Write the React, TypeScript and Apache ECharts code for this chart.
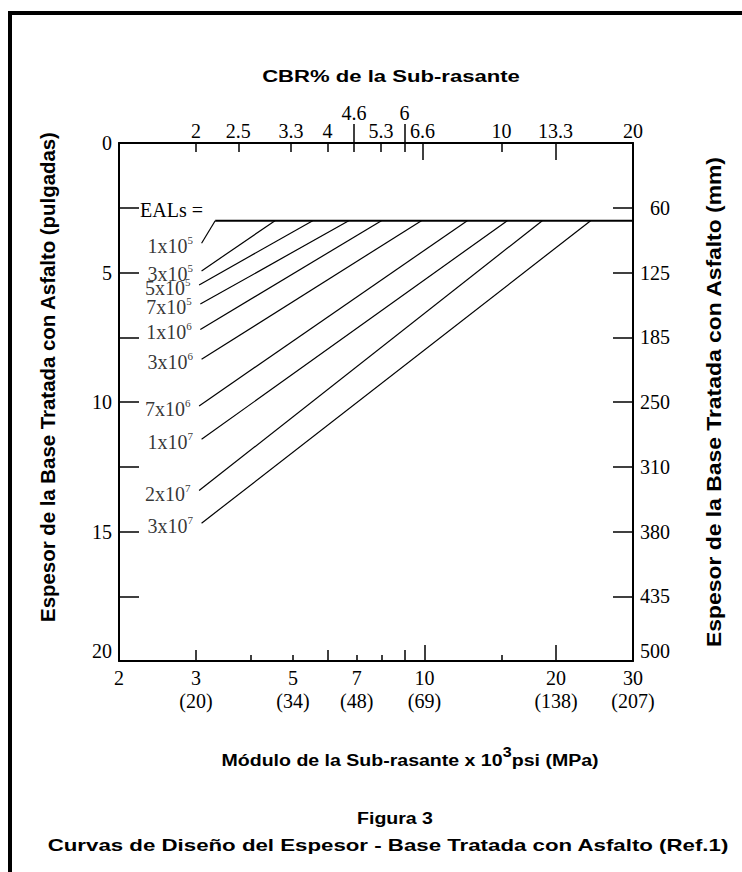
import React, { useEffect, useRef } from "react";
import * as echarts from "echarts";

// ---- Data ----
// Bottom axis: subgrade resilient modulus (x 10^3 psi), MPa equivalents
const modulusLabelValues = [2, 3, 5, 7, 10, 20, 30];
const modulusMPa = ["", "(20)", "(34)", "(48)", "(69)", "(138)", "(207)"];
const modulusShortTicks = [4, 5, 7, 8, 15];
const modulusMidTicks = [3, 6, 9];
const modulusLongTicks = [10, 20];
const modulusMin = 2;
const modulusMax = 30;

// Top axis: CBR% (CBR = Mr / 1.5)
const modulusPerCbr = 1.5;
const cbrLabelValues = [2, 2.5, 3.3, 4, 5.3, 6.6, 10, 13.3, 20];
const cbrRaisedValues = [4.6, 6];
const cbrShortTicks = [2, 2.5, 3.3, 4, 4.6, 5.3, 6, 10];
const cbrLongTicks = [6.6, 13.3];

// Thickness axes (inches left, mm labels right)
const thicknessMin = 0;
const thicknessMax = 20;
const thicknessStep = 2.5;
const thicknessMmLabels = ["", "60", "125", "185", "250", "310", "380", "435", "500"];

// EAL design lines
const ealBase = ["1x10", "3x10", "5x10", "7x10", "1x10", "3x10", "7x10", "1x10", "2x10", "3x10"];
const ealExp = ["5", "5", "5", "5", "6", "6", "6", "7", "7", "7"];
const startModulus = [3.09, 3.09, 3.05, 3.07, 3.07, 3.09, 3.05, 3.09, 3.05, 3.09];
const startThickness = [3.87, 4.94, 5.48, 6.22, 7.2, 8.35, 10.15, 11.44, 13.42, 14.68];
const endModulus = [3.32, 4.55, 5.55, 6.71, 7.97, 9.84, 12.53, 15.47, 18.6, 24.0];
const minThickness = 3;

const SERIF = '"Liberation Serif", "Times New Roman", serif';
const SANS = '"Liberation Sans", Arial, sans-serif';

const near = (a: number, b: number) => Math.abs(a - b) < 1e-6 * Math.max(1, Math.abs(b));

function buildOption() {
  const noSplit = { show: false };
  const tickStyle = { color: "#000", width: 1.5 };
  const axisLineShown = { show: true, onZero: false, lineStyle: { color: "#000", width: 2 } };
  const axisLineHidden = { show: false, onZero: false };
  const serifLabel = { fontFamily: SERIF, fontSize: 20, color: "#000" };

  const bottomBase = {
    type: "log",
    logBase: 10,
    min: modulusMin,
    max: modulusMax,
    position: "bottom",
    gridIndex: 0,
    splitLine: noSplit,
    minorTick: { show: false },
    minorSplitLine: { show: false },
  };
  const topBase = {
    type: "log",
    logBase: 10,
    min: modulusMin / modulusPerCbr,
    max: modulusMax / modulusPerCbr,
    position: "top",
    gridIndex: 0,
    splitLine: noSplit,
    minorTick: { show: false },
    minorSplitLine: { show: false },
  };

  const xAxis = [
    {
      ...bottomBase,
      axisLine: axisLineShown,
      axisTick: { show: true, inside: true, length: 6, customValues: modulusShortTicks, lineStyle: tickStyle },
      axisLabel: {
        ...serifLabel,
        customValues: modulusLabelValues,
        margin: 5,
        lineHeight: 23,
        formatter: (v: number) => {
          const i = modulusLabelValues.findIndex((m) => near(m, v));
          const name = i >= 0 ? String(modulusLabelValues[i]) : String(Math.round(v));
          return i >= 0 && modulusMPa[i] ? name + "\n" + modulusMPa[i] : name;
        },
      },
    },
    {
      ...bottomBase,
      axisLine: axisLineHidden,
      axisTick: { show: true, inside: true, length: 11, customValues: modulusMidTicks, lineStyle: tickStyle },
      axisLabel: { show: false },
    },
    {
      ...bottomBase,
      axisLine: axisLineHidden,
      axisTick: { show: true, inside: true, length: 16, customValues: modulusLongTicks, lineStyle: tickStyle },
      axisLabel: { show: false },
    },
    {
      ...topBase,
      axisLine: axisLineShown,
      axisTick: { show: true, inside: true, length: 9, customValues: cbrShortTicks, lineStyle: tickStyle },
      axisLabel: {
        ...serifLabel,
        customValues: cbrLabelValues,
        margin: 2,
        formatter: (v: number) => String(Math.round(v * 10) / 10),
      },
    },
    {
      ...topBase,
      axisLine: axisLineHidden,
      axisTick: { show: true, inside: true, length: 17, customValues: cbrLongTicks, lineStyle: tickStyle },
      axisLabel: { show: false },
    },
    {
      ...topBase,
      axisLine: axisLineHidden,
      axisTick: { show: true, inside: false, length: 19, customValues: cbrRaisedValues, lineStyle: tickStyle },
      axisLabel: {
        ...serifLabel,
        customValues: cbrRaisedValues,
        margin: 20,
        formatter: (v: number) => String(Math.round(v * 10) / 10),
      },
    },
  ];

  const yBase = {
    type: "value",
    min: thicknessMin,
    max: thicknessMax,
    interval: thicknessStep,
    inverse: true,
    gridIndex: 0,
    splitLine: noSplit,
    axisLine: axisLineShown,
    axisTick: { show: true, inside: true, length: 20, lineStyle: tickStyle },
  };

  const yAxis = [
    {
      ...yBase,
      position: "left",
      axisLabel: {
        ...serifLabel,
        margin: 7,
        verticalAlignMaxLabel: "bottom",
        formatter: (v: number) => (Math.round(v * 10) % 50 === 0 ? String(v) : ""),
      },
    },
    {
      ...yBase,
      position: "right",
      axisLabel: {
        ...serifLabel,
        margin: 37,
        align: "right",
        verticalAlignMaxLabel: "bottom",
        formatter: (v: number) => thicknessMmLabels[Math.round(v / thicknessStep)] || "",
      },
    },
  ];

  const lineSeries = ealBase.map((b, i) => ({
    type: "line",
    name: b + "^" + ealExp[i],
    xAxisIndex: 0,
    yAxisIndex: 0,
    data: [
      [startModulus[i], startThickness[i]],
      [endModulus[i], minThickness],
    ],
    symbol: "none",
    showSymbol: false,
    silent: true,
    lineStyle: { color: "#000", width: 1.2 },
  }));

  const minLine = {
    type: "line",
    name: "min",
    xAxisIndex: 0,
    yAxisIndex: 0,
    data: [
      [endModulus[0], minThickness],
      [modulusMax, minThickness],
    ],
    symbol: "none",
    showSymbol: false,
    silent: true,
    lineStyle: { color: "#000", width: 2 },
  };

  const labelSeries = {
    type: "scatter",
    name: "labels",
    xAxisIndex: 0,
    yAxisIndex: 0,
    symbolSize: 1,
    silent: true,
    itemStyle: { color: "rgba(0,0,0,0)" },
    data: startModulus.map((m, i) => [m, startThickness[i]]),
    label: {
      show: true,
      position: "left",
      distance: 8,
      offset: [0, 3],
      formatter: (p: any) => `{b|${ealBase[p.dataIndex]}}{s|${ealExp[p.dataIndex]}}`,
      rich: {
        b: { fontFamily: SERIF, fontSize: 20, color: "#000", lineHeight: 14, verticalAlign: "middle" },
        s: { fontFamily: SERIF, fontSize: 11, color: "#000", lineHeight: 2, height: 2, verticalAlign: "top" },
      },
    },
  };

  const centered = { align: "center", verticalAlign: "middle", textAlign: "center", textVerticalAlign: "middle" };

  const graphic = [
    { type: "line", shape: { x1: 8, y1: 13, x2: 742, y2: 13 }, style: { stroke: "#000", lineWidth: 4 }, silent: true },
    { type: "line", shape: { x1: 10, y1: 11, x2: 10, y2: 872 }, style: { stroke: "#000", lineWidth: 4 }, silent: true },
    {
      type: "text",
      x: 391,
      y: 76,
      scaleX: 1.3,
      style: { text: "CBR% de la Sub-rasante", fontFamily: SANS, fontWeight: "bold", fontSize: 17, fill: "#000", ...centered },
    },
    {
      type: "text",
      x: 140,
      y: 210,
      style: {
        text: "EALs =",
        fontFamily: SERIF,
        fontSize: 20,
        fill: "#000",
        align: "left",
        verticalAlign: "middle",
        textAlign: "left",
        textVerticalAlign: "middle",
      },
    },
    {
      type: "text",
      x: 410,
      y: 760,
      scaleX: 1.15,
      style: {
        text: "{t|Módulo de la Sub-rasante x 10}{s|3}{t|psi (MPa)}",
        rich: {
          t: { fontFamily: SANS, fontWeight: "bold", fontSize: 17, fill: "#000", color: "#000", lineHeight: 18, verticalAlign: "middle" },
          s: { fontFamily: SANS, fontWeight: "bold", fontSize: 14, fill: "#000", color: "#000", lineHeight: 2, height: 2, verticalAlign: "top" },
        },
        ...centered,
      },
    },
    {
      type: "text",
      x: 395,
      y: 818,
      scaleX: 1.15,
      style: { text: "Figura 3", fontFamily: SANS, fontWeight: "bold", fontSize: 17, fill: "#000", ...centered },
    },
    {
      type: "text",
      x: 388,
      y: 845,
      scaleX: 1.31,
      style: {
        text: "Curvas de Diseño del Espesor - Base Tratada con Asfalto (Ref.1)",
        fontFamily: SANS,
        fontWeight: "bold",
        fontSize: 17,
        fill: "#000",
        ...centered,
      },
    },
    {
      type: "text",
      x: 48,
      y: 377,
      rotation: Math.PI / 2,
      scaleX: 1.02,
      style: {
        text: "Espesor de la Base Tratada con Asfalto (pulgadas)",
        fontFamily: SANS,
        fontWeight: "bold",
        fontSize: 20,
        fill: "#000",
        ...centered,
      },
    },
    {
      type: "text",
      x: 714,
      y: 402,
      rotation: Math.PI / 2,
      scaleX: 1.09,
      style: {
        text: "Espesor de la Base Tratada con Asfalto (mm)",
        fontFamily: SANS,
        fontWeight: "bold",
        fontSize: 21,
        fill: "#000",
        ...centered,
      },
    },
  ];

  return {
    animation: false,
    backgroundColor: "#fff",
    grid: { left: 119, right: 109, top: 143, bottom: 211, containLabel: false },
    xAxis,
    yAxis,
    series: [...lineSeries, minLine, labelSeries],
    graphic,
  };
}

export default function App() {
  const ref = useRef<HTMLDivElement>(null);
  useEffect(() => {
    document.body.style.margin = "0";
    if (!ref.current) return;
    const chart = echarts.init(ref.current, null, { renderer: "svg" });
    chart.setOption(buildOption() as any);
    return () => chart.dispose();
  }, []);
  return <div ref={ref} style={{ width: 742, height: 872, background: "#fff" }} />;
}
